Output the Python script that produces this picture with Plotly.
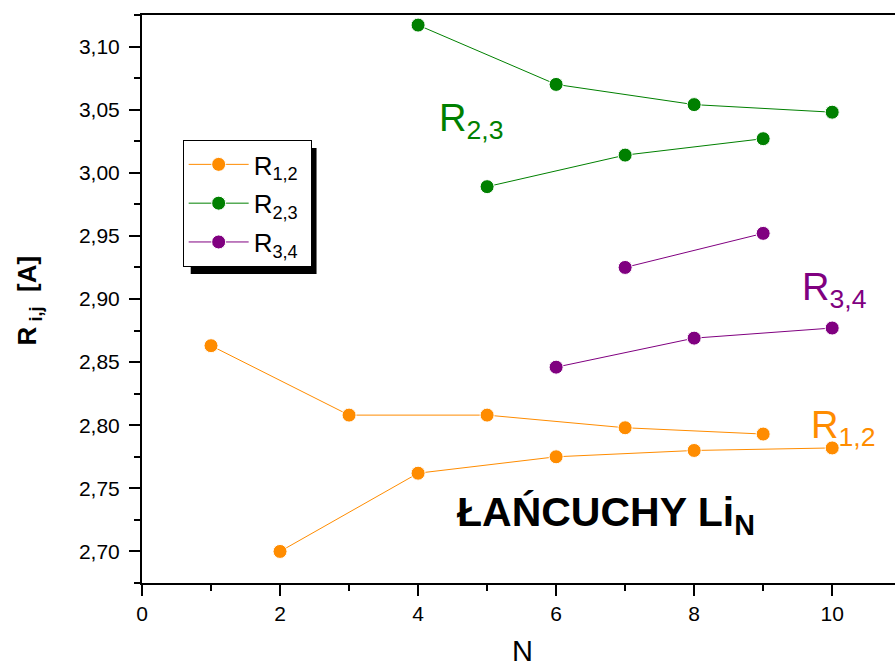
import plotly.graph_objects as go

# Data
n_r12_odd = [1, 3, 5, 7, 9]
r12_odd = [2.863, 2.808, 2.808, 2.798, 2.793]
n_r12_even = [2, 4, 6, 8, 10]
r12_even = [2.700, 2.762, 2.775, 2.780, 2.782]

n_r23_even = [4, 6, 8, 10]
r23_even = [3.117, 3.070, 3.054, 3.048]
n_r23_odd = [5, 7, 9]
r23_odd = [2.989, 3.014, 3.027]

n_r34_odd = [7, 9]
r34_odd = [2.925, 2.952]
n_r34_even = [6, 8, 10]
r34_even = [2.846, 2.869, 2.877]

x_ticks = [0, 2, 4, 6, 8, 10]
y_ticks = [2.70, 2.75, 2.80, 2.85, 2.90, 2.95, 3.00, 3.05, 3.10]

ORANGE = "#FF8C00"
GREEN = "#008000"
PURPLE = "#800080"
FONT = "Liberation Sans, Arial, sans-serif"

fig = go.Figure()

def add_series(xs, ys, color, name, show):
    fig.add_trace(go.Scatter(
        x=xs, y=ys, mode="lines+markers", name=name + "\u00a0", showlegend=show,
        legendgroup=name,
        line=dict(color=color, width=1),
        marker=dict(color=color, size=14, line=dict(color="white", width=1)),
    ))

add_series(n_r12_odd, r12_odd, ORANGE, "R<sub>1,2</sub>", True)
add_series(n_r12_even, r12_even, ORANGE, "R<sub>1,2</sub>", False)
add_series(n_r23_even, r23_even, GREEN, "R<sub>2,3</sub>", True)
add_series(n_r23_odd, r23_odd, GREEN, "R<sub>2,3</sub>", False)
add_series(n_r34_odd, r34_odd, PURPLE, "R<sub>3,4</sub>", True)
add_series(n_r34_even, r34_even, PURPLE, "R<sub>3,4</sub>", False)

axis_common = dict(
    showline=True, linecolor="black", linewidth=2,
    ticks="outside", ticklen=11, tickwidth=2, tickcolor="black",
    showgrid=False, zeroline=False,
    tickfont=dict(family=FONT, size=21, color="black"),
)

fig.update_xaxes(
    range=[0, 10.91], tickvals=x_ticks, mirror=True,
    minor=dict(dtick=1, tick0=0, ticks="outside", ticklen=6, tickwidth=2, tickcolor="black"),
    **axis_common,
)
fig.update_yaxes(
    range=[2.675, 3.125], tickvals=y_ticks, tickformat=".2f", ticklabelstandoff=5,
    minor=dict(dtick=0.025, tick0=2.675, ticks="outside", ticklen=6, tickwidth=2, tickcolor="black"),
    **axis_common,
)

# legend shadow
fig.add_shape(type="rect", xref="paper", yref="paper",
              x0=0.0647, x1=0.2318, y0=0.544, y1=0.766,
              fillcolor="black", line=dict(width=0), layer="above")

annotations = [
    dict(x=4.27, y=3.041, xref="x", yref="y", text="R<sub>2,3</sub>",
         font=dict(family=FONT, size=38, color=GREEN), xanchor="left", yanchor="middle", showarrow=False),
    dict(x=9.53, y=2.9075, xref="x", yref="y", text="R<sub>3,4</sub>",
         font=dict(family=FONT, size=38, color=PURPLE), xanchor="left", yanchor="middle", showarrow=False),
    dict(x=9.66, y=2.798, xref="x", yref="y", text="R<sub>1,2</sub>",
         font=dict(family=FONT, size=38, color=ORANGE), xanchor="left", yanchor="middle", showarrow=False),
    dict(x=4.535, y=2.729, xref="x", yref="y", text="<b>ŁAŃCUCHY Li<sub>N</sub></b>",
         font=dict(family=FONT, size=41, color="black"), xanchor="left", yanchor="middle", showarrow=False),
    dict(x=-0.151, y=0.498, xref="paper", yref="paper", text="<b>R<sub> i,j</sub>  [A]</b>",
         textangle=-90, font=dict(family=FONT, size=26, color="black"),
         xanchor="center", yanchor="middle", showarrow=False),
    dict(x=0.505, y=-0.12, xref="paper", yref="paper", text="N",
         font=dict(family=FONT, size=29, color="black"),
         xanchor="center", yanchor="middle", showarrow=False),
]

fig.update_layout(
    width=895, height=666,
    margin=dict(l=142, r=0, t=15, b=83),
    plot_bgcolor="white", paper_bgcolor="white",
    separators=",.",
    annotations=annotations,
    legend=dict(
        x=0.054, y=0.780, xanchor="left", yanchor="top",
        bgcolor="white", bordercolor="black", borderwidth=1,
        font=dict(family=FONT, size=26, color="black"),
        itemwidth=60, tracegroupgap=2,
    ),
)

fig.write_html("out.html")
